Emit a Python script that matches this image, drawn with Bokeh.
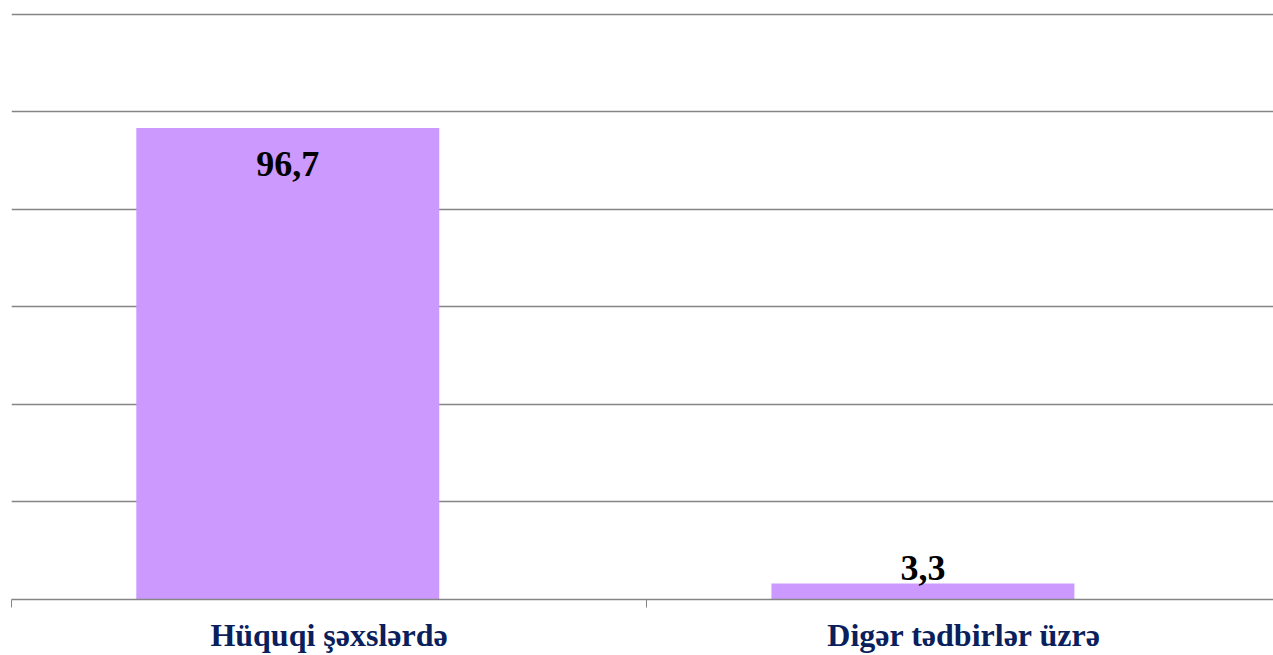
from bokeh.plotting import figure
from bokeh.models import ColumnDataSource, Range1d, FixedTicker, SingleIntervalTicker
from bokeh.core.properties import value
from bokeh.embed import file_html
from bokeh.resources import INLINE

categories = ["Hüquqi şəxslərdə", "Digər tədbirlər üzrə"]
values = [96.7, 3.3]
labels = ["96,7", "3,3"]

n = len(categories)
bar_offset = -0.065
bar_width = 0.477
xs = [i + 0.5 + bar_offset for i in range(n)]
y_offsets = [36 if v > 50 else -15 for v in values]

src = ColumnDataSource(dict(x=xs, top=values, label=labels, yoff=y_offsets))

p = figure(width=1273, height=655, output_backend="svg", toolbar_location=None,
           x_range=Range1d(0, 1.987), y_range=Range1d(0, 120.4),
           min_border_left=11, min_border_right=0, min_border_top=12, min_border_bottom=40)
p.outline_line_color = None
p.background_fill_color = "white"

p.vbar(x="x", top="top", width=bar_width, bottom=0, source=src,
       fill_color="#CC99FF", line_color=None)

p.text(x="x", y="top", text="label", source=src, y_offset="yoff",
       text_align="center", text_baseline="alphabetic",
       text_font=value("Liberation Serif"), text_font_style="bold",
       text_font_size="36px", text_color="black")

p.yaxis.visible = False
p.ygrid.ticker = SingleIntervalTicker(interval=20)
p.ygrid.grid_line_color = "#858585"
p.ygrid.grid_line_width = 1.4
p.xgrid.visible = False

ax = p.xaxis[0]
ax.ticker = FixedTicker(ticks=[i + 0.5 for i in range(n)], minor_ticks=list(range(n + 1)))
ax.major_label_overrides = {i + 0.5: c for i, c in enumerate(categories)}
ax.major_tick_line_color = None
ax.major_tick_out = 0
ax.major_tick_in = 0
ax.minor_tick_out = 8
ax.minor_tick_in = 0
ax.minor_tick_line_color = "#858585"
ax.axis_line_color = "#858585"
ax.axis_line_width = 1.4
ax.major_label_standoff = 9
ax.major_label_text_font = "Liberation Serif"
ax.major_label_text_font_style = "bold"
ax.major_label_text_font_size = "32px"
ax.major_label_text_color = "#0A1F5C"

open("out.html", "w").write(file_html(p, INLINE))
